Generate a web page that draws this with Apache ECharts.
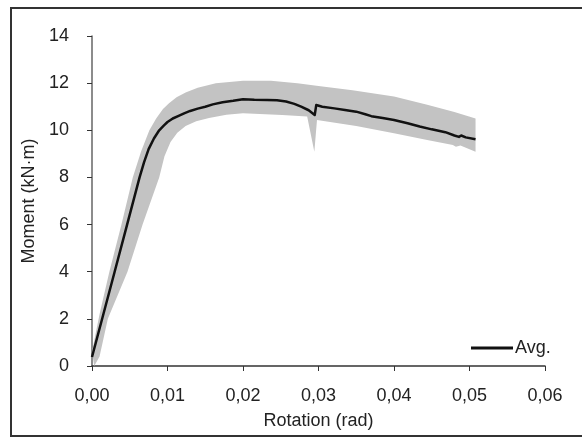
<!DOCTYPE html>
<html><head><meta charset="utf-8">
<script src="https://cdn.jsdelivr.net/npm/echarts@6/dist/echarts.min.js"></script>
<style>html,body{margin:0;padding:0;background:#fff}#c{width:582px;height:438px}</style>
</head><body><div id="c"></div>
<script>
// Average curve (rotation rad, moment kN·m)
const avgX = [0, 0.0030, 0.00465, 0.0063, 0.0069, 0.0075, 0.0082, 0.0089, 0.0095, 0.0100, 0.0107, 0.0114, 0.0122, 0.0130, 0.0140, 0.0150, 0.0160, 0.0173, 0.0187, 0.0200, 0.0215, 0.0232, 0.0245, 0.0257, 0.0268, 0.0277, 0.0287, 0.0295, 0.0297, 0.0305, 0.0321, 0.0335, 0.0350, 0.0362, 0.0370, 0.0385, 0.0400, 0.0418, 0.0434, 0.0450, 0.0468, 0.0480, 0.0486, 0.0489, 0.0495, 0.0508];
const avgY = [0.38, 4.0, 6.0, 8.0, 8.65, 9.2, 9.65, 10.0, 10.2, 10.35, 10.5, 10.6, 10.72, 10.82, 10.92, 11.0, 11.1, 11.19, 11.25, 11.32, 11.30, 11.29, 11.27, 11.22, 11.12, 11.0, 10.85, 10.65, 11.07, 11.0, 10.93, 10.86, 10.79, 10.68, 10.6, 10.52, 10.44, 10.3, 10.16, 10.04, 9.92, 9.78, 9.72, 9.78, 9.7, 9.62];
// Band upper edge (left/top)
const upX = [0, 0.0010, 0.0023, 0.0039, 0.0054, 0.0065, 0.0076, 0.0085, 0.0094, 0.0102, 0.0112, 0.0124, 0.0140, 0.0164, 0.0200, 0.0237, 0.0272, 0.0300, 0.0345, 0.0400, 0.0444, 0.0480, 0.0508];
const upY = [0.6, 2.2, 4.0, 6.0, 8.0, 9.1, 10.0, 10.5, 10.9, 11.15, 11.4, 11.6, 11.8, 12.0, 12.1, 12.1, 12.0, 11.88, 11.7, 11.43, 11.08, 10.78, 10.5];
// Band lower edge (right/bottom)
const loX = [0.0003, 0.0010, 0.0021, 0.0047, 0.0067, 0.0089, 0.0096, 0.0104, 0.0113, 0.0124, 0.0138, 0.0155, 0.0178, 0.0200, 0.0252, 0.0285, 0.02945, 0.0298, 0.0350, 0.0400, 0.0444, 0.0478, 0.0482, 0.0488, 0.0508];
const loY = [0.0, 0.4, 2.0, 4.0, 6.0, 8.0, 8.9, 9.5, 9.9, 10.18, 10.38, 10.52, 10.66, 10.72, 10.65, 10.58, 9.09, 10.44, 10.18, 9.87, 9.59, 9.38, 9.3, 9.35, 9.09];
const xTicks = ['0,00','0,01','0,02','0,03','0,04','0,05','0,06'];
const yTicks = [0,2,4,6,8,10,12,14];

const avgData = avgX.map((x,i)=>[x, avgY[i]]);
const bandPts = upX.map((x,i)=>[x, upY[i]]).concat(loX.map((x,i)=>[x, loY[i]]).reverse());

const chart = echarts.init(document.getElementById('c'));
const font = 'Liberation Sans, Arial, sans-serif';
chart.setOption({
  animation: false,
  textStyle: {fontFamily: font},
  grid: {left: 92, right: 37, top: 36, bottom: 72},
  graphic: [{type:'rect', shape:{x:11, y:8, width:600, height:428}, style:{fill:'none', stroke:'#333', lineWidth:2}, z:-1}],
  legend: {show:true, left: 466, top: 334, itemWidth: 42, itemHeight: 3, itemGap: 4,
    textStyle:{fontSize:18, color:'#222', fontFamily: font, padding:[0,0,0,-3]},
    data:[{name:'Avg.', icon:'rect', itemStyle:{color:'#111'}}]},
  xAxis: {type:'value', min:0, max:0.06, interval:0.01,
    name:'Rotation (rad)', nameLocation:'middle', nameGap:46,
    nameTextStyle:{fontSize:18, color:'#222', fontFamily: font},
    axisLine:{lineStyle:{color:'#333', width:1.5}},
    axisTick:{show:true, length:5, lineStyle:{color:'#333'}},
    axisLabel:{fontSize:18, color:'#222', margin:21, fontFamily: font, formatter:(v)=>xTicks[Math.round(v*100)]},
    splitLine:{show:false}},
  yAxis: {type:'value', min:0, max:14, interval:2,
    name:'Moment (kN·m)', nameLocation:'middle', nameGap:42,
    nameTextStyle:{fontSize:18, color:'#222', fontFamily: font},
    axisLine:{show:true, lineStyle:{color:'#666', width:1.5}},
    axisTick:{show:true, length:5, lineStyle:{color:'#333'}},
    axisLabel:{fontSize:18, color:'#222', margin:23, fontFamily: font, formatter:(v)=>String(yTicks[v/2])},
    splitLine:{show:false}},
  series: [
    {type:'custom', name:'band', silent:true, data:[bandPts[0]], z:1,
     renderItem:(params, api)=>{
       if (params.dataIndex!==0) return;
       return {type:'polygon', shape:{points: bandPts.map(p=>api.coord(p))}, style:{fill:'#c3c3c3', stroke:'none'}};
     }},
    {type:'line', name:'Avg.', data:avgData, showSymbol:false, symbol:'none', z:3,
     lineStyle:{color:'#111', width:2.5, join:'round'}, itemStyle:{color:'#111'}}
  ]
});
</script></body></html>
